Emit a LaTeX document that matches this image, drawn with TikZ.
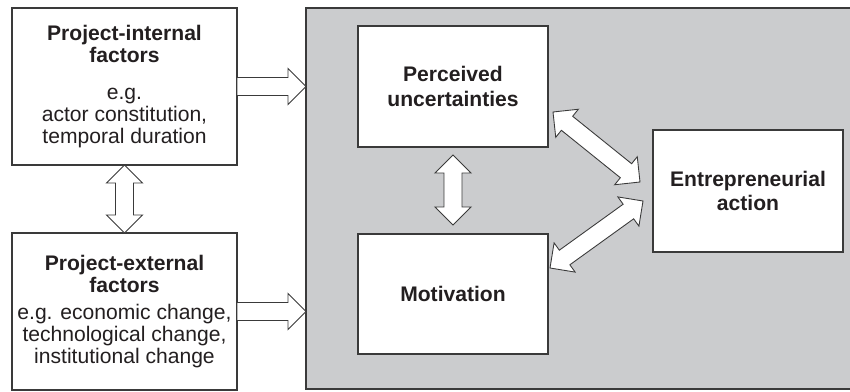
\documentclass[tikz,border=0pt]{standalone}
\usepackage{fontspec}
\setmainfont{Liberation Sans}
\usetikzlibrary{calc}
\definecolor{PanelGray}{HTML}{CBCCCE}
\definecolor{EdgeGray}{HTML}{3A3A3A}
\definecolor{InkBlack}{HTML}{231F20}
\newcommand{\arrshaft}{0.18cm}
\newcommand{\arrhead}{0.36cm}
\newcommand{\arrlen}{0.36cm}
\newcommand{\oneway}[2]{%
  \draw[blockarrow] ($(#1)!\arrshaft!90:(#2)$) -- ($(#2)!\arrlen!(#1)!\arrshaft!-90:(#1)$) -- ($(#2)!\arrlen!(#1)!\arrhead!-90:(#1)$) -- (#2) -- ($(#2)!\arrlen!(#1)!\arrhead!90:(#1)$) -- ($(#2)!\arrlen!(#1)!\arrshaft!90:(#1)$) -- ($(#1)!\arrshaft!-90:(#2)$) -- cycle;}
\newcommand{\twoway}[2]{%
  \draw[blockarrow] (#1) -- ($(#1)!\arrlen!(#2)!\arrhead!90:(#2)$) -- ($(#1)!\arrlen!(#2)!\arrshaft!90:(#2)$) -- ($(#2)!\arrlen!(#1)!\arrshaft!-90:(#1)$) -- ($(#2)!\arrlen!(#1)!\arrhead!-90:(#1)$) -- (#2) -- ($(#2)!\arrlen!(#1)!\arrhead!90:(#1)$) -- ($(#2)!\arrlen!(#1)!\arrshaft!90:(#1)$) -- ($(#1)!\arrlen!(#2)!\arrshaft!-90:(#2)$) -- ($(#1)!\arrlen!(#2)!\arrhead!-90:(#2)$) -- cycle;}
\tikzset{
  panel/.style={draw=EdgeGray, line width=0.8pt, fill=PanelGray, minimum width=11.08cm, minimum height=7.62cm, outer sep=0pt},
  box/.style={draw=EdgeGray, line width=0.75pt, fill=white, text=InkBlack, minimum width=3.8cm, align=center, inner sep=0pt, outer sep=0pt, font=\bfseries\fontsize{12}{14}\selectfont},
  factorbox/.style={box, minimum width=4.5cm, minimum height=3.14cm, font=\fontsize{12}{12.5}\selectfont},
  blockarrow/.style={draw=EdgeGray, line width=0.5pt, fill=white, line join=miter},
}

\begin{document}
\begin{tikzpicture}
\useasboundingbox (0,0) rectangle (17,-7.82);

% Grey panel
\node[panel] (core) at (11.66,-3.97) {};

% Factors
\node[factorbox] (internal) at (2.49,-1.73) {\textbf{Project-internal}\\\textbf{factors}\\[8.5pt]e.g.\\actor constitution,\\temporal duration};
\node[factorbox] (external) at (2.49,-6.23) {\textbf{Project-external}\\\textbf{factors}\\[3pt]e.g. economic change,\\technological change,\\institutional change};

% Inside the panel
\node[box, minimum height=2.42cm] (pu) at (9.06,-1.73) {Perceived\\uncertainties};
\node[box, minimum height=2.4cm] (mot) at (9.06,-5.88) {Motivation};
\node[box, minimum height=2.44cm] (act) at (14.96,-3.82) {Entrepreneurial\\action};

% Arrow ends
\coordinate (int-in) at (core.west |- internal.east);
\coordinate (ext-in) at (core.west |- external.east);
\coordinate (pu-low) at ([yshift=-0.16cm]pu.south);
\coordinate (mot-up) at ([yshift=0.18cm]mot.north);
\coordinate (pu-out) at ([shift={(0.1,-0.51)}]pu.east);
\coordinate (act-up) at ([shift={(-0.26,0.18)}]act.west);
\coordinate (mot-out) at ([shift={(0.04,0.52)}]mot.east);
\coordinate (act-low) at ([shift={(-0.2,-0.2)}]act.west);

% Arrows
\oneway{internal.east}{int-in}
\oneway{external.east}{ext-in}
\twoway{internal.south}{external.north}
\twoway{pu-low}{mot-up}
\twoway{pu-out}{act-up}
\twoway{mot-out}{act-low}

\end{tikzpicture}
\end{document}
